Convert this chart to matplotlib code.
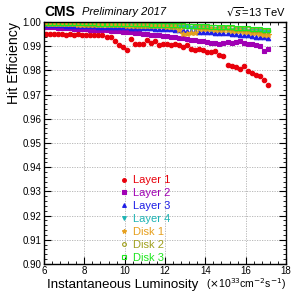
import matplotlib
matplotlib.use("Agg")
import matplotlib.pyplot as plt
from matplotlib.ticker import MultipleLocator, FormatStrFormatter
from matplotlib.lines import Line2D

plt.rcParams['font.family'] = ['Liberation Sans', 'DejaVu Sans']

lumi = [6.1, 6.3, 6.5, 6.7, 6.9, 7.1, 7.3, 7.5, 7.7, 7.9, 8.1, 8.3, 8.5, 8.7, 8.9,
        9.1, 9.3, 9.5, 9.7, 9.9, 10.1, 10.3, 10.5, 10.7, 10.9, 11.1, 11.3, 11.5, 11.7,
        11.9, 12.1, 12.3, 12.5, 12.7, 12.9, 13.1, 13.3, 13.5, 13.7, 13.9, 14.1, 14.3,
        14.5, 14.7, 14.9, 15.1, 15.3, 15.5, 15.7, 15.9, 16.1, 16.3, 16.5, 16.7, 16.9, 17.1]

layer1 = [.9951, .9950, .9950, .9949, .9950, .9948, .9949, .9947, .9949, .9948, .9946,
          .9948, .9947, .9945, .9946, .9940, .9937, .9922, .9903, .9897, .9883, .9931,
          .9910, .9911, .9910, .9926, .9912, .9921, .9907, .9909, .9910, .9907, .9911,
          .9903, .9898, .9907, .9889, .9886, .9889, .9886, .9877, .9877, .9882, .9865,
          .9858, .9824, .9820, .9813, .9806, .9817, .9799, .9789, .9782, .9775, .9760, .9740]

layer2 = [.9980, .9979, .9978, .9977, .9976, .9975, .9974, .9973, .9972, .9971, .9970,
          .9969, .9968, .9967, .9966, .9965, .9964, .9963, .9961, .9960, .9959, .9958,
          .9956, .9954, .9952, .9950, .9948, .9947, .9945, .9943, .9942, .9940, .9938,
          .9935, .9932, .9929, .9926, .9924, .9922, .9920, .9918, .9915, .9913, .9910,
          .9912, .9918, .9914, .9917, .9923, .9913, .9910, .9910, .9907, .9899, .9882, .9888]

layer3 = [.9988, .9987, .9987, .9986, .9986, .9985, .9985, .9984, .9984, .9983, .9983,
          .9982, .9982, .9981, .9981, .9980, .9980, .9979, .9979, .9978, .9978, .9977,
          .9977, .9976, .9975, .9975, .9974, .9973, .9973, .9972, .9971, .9970, .9969,
          .9967, .9965, .9963, .9962, .9961, .9960, .9959, .9958, .9957, .9956, .9955,
          .9954, .9953, .9951, .9950, .9948, .9946, .9945, .9943, .9940, .9938, .9936, .9934]

layer4 = [.9994, .9993, .9993, .9993, .9992, .9992, .9992, .9991, .9991, .9991, .9990,
          .9990, .9990, .9989, .9989, .9989, .9988, .9988, .9988, .9987, .9987, .9986,
          .9986, .9985, .9985, .9984, .9984, .9983, .9983, .9982, .9982, .9981, .9980,
          .9980, .9979, .9978, .9977, .9977, .9976, .9975, .9974, .9973, .9972, .9971,
          .9970, .9969, .9968, .9967, .9966, .9965, .9964, .9963, .9962, .9961, .9959, .9958]

disk1 = [.9992, .9992, .9991, .9991, .9991, .9990, .9990, .9990, .9989, .9989, .9989,
         .9988, .9988, .9988, .9987, .9987, .9987, .9986, .9986, .9986, .9985, .9985,
         .9985, .9984, .9984, .9984, .9983, .9983, .9982, .9982, .9981, .9980, .9978,
         .9965, .9952, .9951, .9953, .9955, .9970, .9972, .9971, .9970, .9969, .9967,
         .9966, .9965, .9964, .9962, .9961, .9960, .9958, .9956, .9954, .9951, .9948, .9945]

disk2 = [.9996, .9996, .9995, .9995, .9995, .9995, .9994, .9994, .9994, .9994, .9993,
         .9993, .9993, .9992, .9992, .9992, .9991, .9991, .9991, .9990, .9990, .9990,
         .9989, .9989, .9988, .9988, .9988, .9987, .9987, .9986, .9986, .9985, .9985,
         .9984, .9983, .9983, .9982, .9981, .9981, .9980, .9979, .9978, .9978, .9977,
         .9976, .9975, .9974, .9973, .9972, .9971, .9970, .9969, .9968, .9966, .9964, .9962]

disk3 = [.9997, .9997, .9997, .9996, .9996, .9996, .9996, .9995, .9995, .9995, .9994,
         .9994, .9994, .9993, .9993, .9993, .9993, .9992, .9992, .9992, .9991, .9991,
         .9991, .9990, .9990, .9990, .9989, .9989, .9988, .9988, .9988, .9987, .9987,
         .9986, .9986, .9985, .9985, .9984, .9983, .9983, .9982, .9981, .9981, .9980,
         .9979, .9978, .9978, .9977, .9976, .9975, .9974, .9973, .9972, .9970, .9968, .9966]

labels = ["Layer 1", "Layer 2", "Layer 3", "Layer 4", "Disk 1", "Disk 2", "Disk 3"]
series = [layer1, layer2, layer3, layer4, disk1, disk2, disk3]
colors = ["#e8000b", "#a000b4", "#1e1ee6", "#1eb4b4", "#e6a01e", "#a0a01e", "#1ee61e"]
markers = ["o", "s", "^", "v", "*", "o", "s"]
filled = [True, True, True, True, True, False, False]
sizes = [3.2, 3.0, 3.2, 3.2, 3.8, 3.2, 3.2]

fig = plt.figure(figsize=(2.97, 2.93), dpi=100)
ax = fig.add_axes([44/297, 1-264/293, 242/297, 242/293])

handles = []
for y, lab, c, m, f, s in zip(series, labels, colors, markers, filled, sizes):
    kw = dict(marker=m, ms=s, linestyle='none', color=c, mec=c, mew=0.8,
              mfc=c if f else 'none')
    ax.plot(lumi, y, **kw)
    handles.append(Line2D([], [], **dict(kw, ms=s * 0.85)))

ax.set_xlim(6, 18)
ax.set_ylim(0.90, 1.00)
ax.xaxis.set_major_locator(MultipleLocator(2))
ax.xaxis.set_minor_locator(MultipleLocator(0.4))
ax.yaxis.set_major_locator(MultipleLocator(0.01))
ax.yaxis.set_minor_locator(MultipleLocator(0.002))
ax.yaxis.set_major_formatter(FormatStrFormatter('%.2f'))
ax.tick_params(which='both', direction='in', top=True, right=True, labelsize=7, pad=2)
ax.tick_params(axis='x', which='major', pad=1.5)
ax.tick_params(which='major', length=5, width=0.8)
ax.tick_params(which='minor', length=2.5, width=0.6)
ax.grid(True, which='major', linestyle=(0, (1.5, 1.5)), color='#b0b0b0', linewidth=0.6)
for sp in ax.spines.values():
    sp.set_linewidth(1.0)

leg = ax.legend(handles, labels, loc='upper left', bbox_to_anchor=(0.318, 0.366),
                frameon=False, fontsize=8, handlelength=0.6, handletextpad=0.5,
                labelspacing=0.26, borderaxespad=0, borderpad=0,
                labelcolor=colors)

fig.text(14/297, 1-22/293, "Hit Efficiency", rotation=90, ha='center', va='top', fontsize=10.2)
ax.text(0.636, -0.1, "Instantaneous Luminosity", transform=ax.transAxes,
        ha='right', va='baseline', fontsize=9.6)
ax.text(1.0, -0.1, r"($\times$10$^{33}$cm$^{-2}$s$^{-1}$)", transform=ax.transAxes,
        ha='right', va='baseline', fontsize=7.6)

fig.text(44/297, 1-12/293, "CMS", fontsize=10, fontweight='bold', ha='left', va='center')
fig.text(82/297, 1-12/293, "Preliminary 2017", fontsize=8, style='italic', ha='left', va='center')
fig.text(286/297, 1-12/293, r"$\sqrt{s}$=13 TeV", fontsize=8, ha='right', va='center')

fig.savefig("out.png", dpi=100)
